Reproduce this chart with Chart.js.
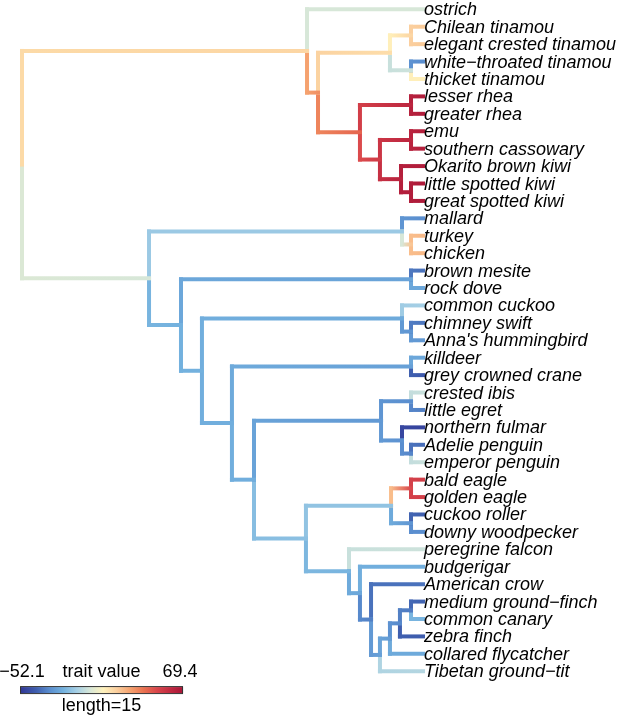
<!DOCTYPE html>
<html>
<head>
<meta charset="utf-8">
<style>
  html, body { margin: 0; padding: 0; background: #fff; }
  #wrap { width: 617px; height: 718px; }
</style>
</head>
<body>
<div id="wrap"><canvas id="tree" width="617" height="718"></canvas></div>
<script src="https://cdn.jsdelivr.net/npm/chart.js@4.4.1/dist/chart.umd.min.js"></script>
<script>
// Tips, top to bottom
const tipLabels = [
    'ostrich', 'Chilean tinamou', 'elegant crested tinamou', 'white\u2212throated tinamou', 'thicket tinamou',
    'lesser rhea', 'greater rhea', 'emu', 'southern cassowary', 'Okarito brown kiwi',
    'little spotted kiwi', 'great spotted kiwi', 'mallard', 'turkey', 'chicken',
    'brown mesite', 'rock dove', 'common cuckoo', 'chimney swift', "Anna's hummingbird",
    'killdeer', 'grey crowned crane', 'crested ibis', 'little egret', 'northern fulmar',
    'Adelie penguin', 'emperor penguin', 'bald eagle', 'golden eagle', 'cuckoo roller',
    'downy woodpecker', 'peregrine falcon', 'budgerigar', 'American crow', 'medium ground\u2212finch',
    'common canary', 'zebra finch', 'collared flycatcher', 'Tibetan ground\u2212tit'
];
const tipParent = [1, 4, 4, 5, 5, 7, 7, 9, 9, 10, 11, 11, 13, 14, 14, 16, 16, 18, 19, 19,
    21, 21, 24, 24, 25, 26, 26, 29, 29, 30, 30, 31, 32, 33, 37, 37, 36, 35, 34];
// trait value at start / end of each tip branch
const tipStart = [0, 20, 20, -29, 11, 64, 64, 63, 63, 65, 66, 66, -28, 24, 24, -35, -23, -11, -34, -27,
    -23, -40, -4, -32, -47, -36, -4, 52, 52, -39, -30, -3, -21, -36, -38, -19, -40, -22, -8];
const tipEnd = [0, 21, 21, -30, 11, 66, 66, 65, 65, 66, 67, 67, -30, 25, 25, -36, -23, -10, -35, -27,
    -23, -42, -3, -33, -48, -37, -3, 53, 53, -40, -30, -2, -21, -36, -39, -19, -41, -22, -7];

// Internal nodes (0 = root)
const nodeParent = [-1, 0, 1, 2, 3, 3, 2, 6, 6, 8, 8, 10, 0, 12, 13, 12, 15, 15, 17, 18,
    17, 20, 20, 22, 23, 23, 25, 22, 27, 28, 28, 27, 31, 32, 33, 34, 35, 36];
const nodeDepth = [0, 26.23, 27.24, 33.86, 35.8, 35.8, 31.1, 35.8, 32.94, 35.8, 34.88, 35.8,
    11.69, 34.97, 35.8, 14.63, 35.8, 16.56, 34.97, 35.8, 19.32, 35.8, 21.35, 33.04, 35.8,
    34.97, 35.8, 26.13, 33.96, 35.8, 35.8, 30.09, 31.1, 32.12, 32.94, 33.86, 34.78, 35.8];
const nodeStart = [5, 17, 30, 19, 11, -3, 36, 53, 49, 56, 58, 65, 1, -12, 0, -19, -23, -20, -21, -27,
    -21, -22, -21, -24, -28, -27, -30, -16, -14, 24, -22, -18, -22, -31, -27, -24, -29, -33];
const nodeEnd = [5, 18, 34, 16, 18, -2, 43, 62, 54, 62, 63, 66, 0, -12, 22, -20, -24, -20, -22, -28,
    -21, -25, -21, -27, -30, -29, -32, -15, -14, 50, -28, -19, -23, -33, -25, -26, -31, -34];

const treeHeight = 36.9;
const traitMin = -52.1;
const traitMax = 69.4;
const scaleBarLength = 15;

// colour ramp for the trait
const rampValues = [-52.1, -40, -30, -20, -10, 0, 10, 20, 30, 40, 50, 60, 69.4];
const rampColors = ['#313695', '#3f5faf', '#5a8ecf', '#73b1de', '#a5cfe5', '#d7e7d8', '#fff2bd',
    '#fbcf9e', '#f5a26f', '#ea7250', '#d9464b', '#c12a41', '#a81538'];

const FONT = "'Liberation Sans', Arial, sans-serif";

function hexToRgb(h) {
    return [parseInt(h.slice(1, 3), 16), parseInt(h.slice(3, 5), 16), parseInt(h.slice(5, 7), 16)];
}

function traitColor(v) {
    if (v <= rampValues[0]) return rampColors[0];
    for (let i = 1; i < rampValues.length; i++) {
        if (v <= rampValues[i]) {
            const t = (v - rampValues[i - 1]) / (rampValues[i] - rampValues[i - 1]);
            const a = hexToRgb(rampColors[i - 1]);
            const b = hexToRgb(rampColors[i]);
            const c = a.map((q, k) => Math.round(q + (b[k] - q) * t));
            return `rgb(${c[0]},${c[1]},${c[2]})`;
        }
    }
    return rampColors[rampColors.length - 1];
}

// node heights on the page = middle of the children
const children = nodeParent.map(() => []);
tipParent.forEach((p, i) => children[p].push({ tip: true, i }));
nodeParent.forEach((p, i) => { if (p >= 0) children[p].push({ tip: false, i }); });
const nodeY = nodeParent.map(() => null);

function getNodeY(n) {
    if (nodeY[n] !== null) return nodeY[n];
    const ys = children[n].map(c => c.tip ? c.i : getNodeY(c.i));
    nodeY[n] = (Math.min(...ys) + Math.max(...ys)) / 2;
    return nodeY[n];
}
getNodeY(0);

// one dataset per edge: vertical connector then the branch itself
const edges = [];
nodeParent.forEach((p, i) => {
    if (p < 0) return;
    edges.push({ p, x: nodeDepth[i], y: nodeY[i], v0: nodeStart[i], v1: nodeEnd[i] });
});
tipParent.forEach((p, i) => {
    edges.push({ p, x: treeHeight, y: i, v0: tipStart[i], v1: tipEnd[i] });
});

const datasets = edges.map(e => ({
    data: [
        { x: nodeDepth[e.p], y: nodeY[e.p] },
        { x: nodeDepth[e.p], y: e.y },
        { x: e.x, y: e.y }
    ],
    showLine: true,
    borderWidth: 4,
    borderColor: traitColor(e.v0),
    borderCapStyle: 'square',
    borderJoinStyle: 'miter',
    pointRadius: 0,
    pointHoverRadius: 0,
    clip: false,
    segment: {
        borderColor: ctx => {
            if (ctx.p0DataIndex === 0) return traitColor(e.v0);
            const g = ctx.chart.ctx.createLinearGradient(ctx.p0.x, 0, ctx.p1.x, 0);
            g.addColorStop(0, traitColor(e.v0));
            g.addColorStop(1, traitColor(e.v1));
            return g;
        }
    }
}));

// tip labels
const tipLabelPlugin = {
    id: 'tipLabels',
    afterDatasetsDraw(chart) {
        const { ctx, scales: { x, y } } = chart;
        ctx.save();
        ctx.font = `italic 18px ${FONT}`;
        ctx.fillStyle = '#000';
        ctx.textAlign = 'left';
        ctx.textBaseline = 'middle';
        const lx = x.getPixelForValue(treeHeight) + 1;
        tipLabels.forEach((name, i) => ctx.fillText(name, lx, y.getPixelForValue(i) + 1));
        ctx.restore();
    }
};

// colour bar + scale bar
const legendRow = 39.08;
const legendStart = -0.18;
const traitLegendPlugin = {
    id: 'traitLegend',
    afterDraw(chart) {
        const { ctx, scales: { x, y } } = chart;
        const left = x.getPixelForValue(legendStart);
        const right = x.getPixelForValue(legendStart + scaleBarLength);
        const cy = y.getPixelForValue(legendRow);
        ctx.save();
        const g = ctx.createLinearGradient(left, 0, right, 0);
        rampValues.forEach((v, i) => g.addColorStop((v - traitMin) / (traitMax - traitMin), rampColors[i]));
        ctx.fillStyle = g;
        ctx.fillRect(left, cy - 3, right - left, 6);
        ctx.strokeStyle = '#333';
        ctx.lineWidth = 1;
        ctx.strokeRect(left + 0.5, cy - 3.5, right - left - 1, 7);

        ctx.fillStyle = '#000';
        ctx.font = `18px ${FONT}`;
        ctx.textBaseline = 'middle';
        ctx.textAlign = 'center';
        ctx.fillText('\u221252.1', left + 2, cy - 18);
        ctx.fillText('trait value', (left + right) / 2, cy - 18);
        ctx.fillText('69.4', right - 3, cy - 18);
        ctx.fillText('length=' + scaleBarLength, (left + right) / 2, cy + 16);
        ctx.restore();
    }
};

const pxPerUnit = 163 / scaleBarLength;
const pxPerTip = 17.42;

new Chart(document.getElementById('tree'), {
    type: 'scatter',
    data: { datasets },
    options: {
        responsive: false,
        animation: false,
        devicePixelRatio: 1,
        layout: { padding: 0 },
        events: [],
        scales: {
            x: { type: 'linear', display: false, min: -22 / pxPerUnit, max: (617 - 22) / pxPerUnit },
            y: { type: 'linear', display: false, reverse: true, min: -9.3 / pxPerTip, max: (718 - 9.3) / pxPerTip }
        },
        plugins: {
            legend: { display: false },
            tooltip: { enabled: false }
        }
    },
    plugins: [tipLabelPlugin, traitLegendPlugin]
});
</script>
</body>
</html>
